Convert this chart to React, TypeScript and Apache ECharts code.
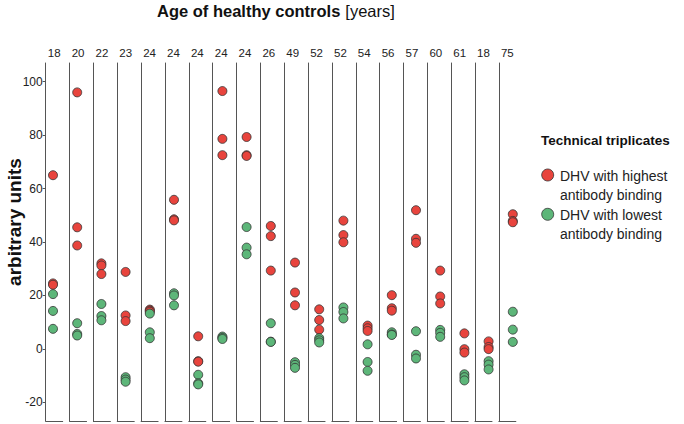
import React, { useEffect, useRef } from "react";
import * as echarts from "echarts";

const ages = ["18", "20", "22", "23", "24", "24", "24", "24", "24", "26", "49", "52", "52", "54", "56", "57", "60", "61", "18", "75"];

const highest: number[][] = [
  [65.0, 24.5, 24.0],
  [96.0, 45.5, 38.7],
  [32.0, 31.2, 28.0],
  [28.8, 12.5, 10.4],
  [14.7, 14.3, 13.9],
  [55.8, 48.5, 48.1],
  [4.7, -4.6, -4.8],
  [96.5, 78.6, 72.5],
  [79.3, 72.5, 72.2],
  [46.0, 42.2, 29.3],
  [32.3, 21.1, 16.3],
  [14.8, 10.8, 7.2],
  [48.0, 42.6, 39.9],
  [8.7, 7.7, 6.7],
  [20.1, 15.2, 14.3],
  [51.9, 41.2, 39.7],
  [29.3, 19.6, 17.0],
  [5.8, -0.1, -1.4],
  [2.8, 0.7, -0.1],
  [50.4, 47.9, 47.4],
];

const lowest: number[][] = [
  [20.5, 14.2, 7.5],
  [9.6, 5.6, 5.0],
  [16.8, 12.3, 10.7],
  [-10.6, -11.5, -12.3],
  [13.2, 6.2, 4.0],
  [20.8, 20.0, 16.3],
  [-9.7, -12.9, -13.3],
  [4.6, 4.1, 3.7],
  [45.6, 37.9, 35.4],
  [9.6, 2.7, 2.6],
  [-5.0, -6.0, -7.1],
  [4.0, 3.2, 2.4],
  [15.5, 13.8, 11.4],
  [1.7, -4.9, -8.2],
  [6.2, 5.4, 5.2],
  [6.6, -2.2, -3.6],
  [7.1, 6.0, 4.5],
  [-9.5, -10.6, -11.8],
  [-4.6, -5.9, -7.7],
  [13.9, 7.2, 2.6],
];

const yTicks = [-20, 0, 20, 40, 60, 80, 100];
const Y_MIN = -27;
const Y_MAX = 107;

const RED = "#e8443d";
const GREEN = "#5db679";
const LINE = "#555555";
const NARROW = "'Liberation Sans Narrow', 'Liberation Sans', Arial, sans-serif";
const SANS = "'Liberation Sans', Arial, sans-serif";

export default function App() {
  const ref = useRef<HTMLDivElement>(null);

  useEffect(() => {
    if (!ref.current) return;
    document.body.style.margin = "0";
    document.body.style.overflow = "hidden";
    document.documentElement.style.overflow = "hidden";
    const chart = echarts.init(ref.current, null, { renderer: "svg" });

    const n = ages.length;
    const grids: any[] = [];
    const xAxes: any[] = [];
    const yAxes: any[] = [];
    const series: any[] = [];
    const W = 17;

    for (let i = 0; i < n; i++) {
      const left = 45.7 + 23.85 * i;
      const px = 53 + 24.2 * i;
      const fx = (px - left) / W;
      grids.push({ left, width: W, top: 63, bottom: 3, containLabel: false });
      xAxes.push({
        type: "value",
        gridIndex: i,
        min: 0,
        max: 1,
        position: "bottom",
        axisLine: { show: true, onZero: false, lineStyle: { color: LINE, width: 1 } },
        axisTick: { show: false },
        axisLabel: { show: false },
        splitLine: { show: false },
      });
      xAxes.push({
        type: "category",
        gridIndex: i,
        position: "top",
        data: [ages[i]],
        axisLine: { show: false },
        axisTick: { show: false },
        axisLabel: {
          show: true,
          margin: 4,
          fontFamily: NARROW,
          fontSize: 11.5,
          color: "#222",
        },
        splitLine: { show: false },
      });
      yAxes.push({
        type: "value",
        gridIndex: i,
        min: Y_MIN,
        max: Y_MAX,
        axisLine: { show: true, onZero: false, lineStyle: { color: LINE, width: 1 } },
        axisTick: { show: i === 0, length: 3, lineStyle: { color: LINE }, customValues: yTicks },
        axisLabel: {
          show: i === 0,
          margin: 3,
          fontFamily: NARROW,
          fontSize: 12,
          color: "#222",
          customValues: yTicks,
        },
        splitLine: { show: false },
      });
      series.push({
        type: "scatter",
        name: "DHV with highest antibody binding",
        xAxisIndex: 2 * i,
        yAxisIndex: i,
        symbolSize: 9,
        itemStyle: { color: RED, opacity: 1, borderColor: "#333", borderWidth: 0.8 },
        data: highest[i].map((v) => [fx, v]),
      });
      series.push({
        type: "scatter",
        name: "DHV with lowest antibody binding",
        xAxisIndex: 2 * i,
        yAxisIndex: i,
        symbolSize: 9,
        itemStyle: { color: GREEN, opacity: 1, borderColor: "#333", borderWidth: 0.8 },
        data: lowest[i].map((v) => [fx, v]),
      });
    }

    chart.setOption({
      animation: false,
      backgroundColor: "#ffffff",
      title: {
        text: "{b|Age of healthy controls} {n|[years]}",
        left: 157,
        top: 2,
        padding: 0,
        textStyle: {
          rich: {
            b: { fontFamily: SANS, fontSize: 16.5, fontWeight: "bold", color: "#111" },
            n: { fontFamily: SANS, fontSize: 16.5, fontWeight: "normal", color: "#111" },
          },
        },
      },
      grid: grids,
      xAxis: xAxes,
      yAxis: yAxes,
      series,
      graphic: [
        {
          type: "text",
          x: 14,
          y: 222,
          rotation: Math.PI / 2,
          style: {
            text: "arbitrary units",
            fontFamily: SANS,
            fontSize: 19,
            fontWeight: "bold",
            fill: "#111",
            align: "center",
            verticalAlign: "middle",
          },
        },
        {
          type: "text",
          x: 541,
          y: 140,
          style: {
            text: "Technical triplicates",
            fontFamily: SANS,
            fontSize: 13.5,
            fontWeight: "bold",
            fill: "#111",
            align: "left",
            verticalAlign: "middle",
          },
        },
        {
          type: "circle",
          shape: { cx: 547.7, cy: 175, r: 6 },
          style: { fill: RED, stroke: "#333", lineWidth: 0.8 },
        },
        {
          type: "text",
          x: 560,
          y: 166,
          style: {
            text: "DHV with highest\nantibody binding",
            fontFamily: SANS,
            fontSize: 14,
            lineHeight: 19,
            fill: "#222",
            align: "left",
            verticalAlign: "top",
          },
        },
        {
          type: "circle",
          shape: { cx: 547.7, cy: 214.3, r: 6 },
          style: { fill: GREEN, stroke: "#333", lineWidth: 0.8 },
        },
        {
          type: "text",
          x: 560,
          y: 205,
          style: {
            text: "DHV with lowest\nantibody binding",
            fontFamily: SANS,
            fontSize: 14,
            lineHeight: 19,
            fill: "#222",
            align: "left",
            verticalAlign: "top",
          },
        },
      ],
    });

    return () => chart.dispose();
  }, []);

  return (
    <div
      ref={ref}
      style={{ position: "absolute", left: 0, top: 0, width: 684, height: 424 }}
    />
  );
}
